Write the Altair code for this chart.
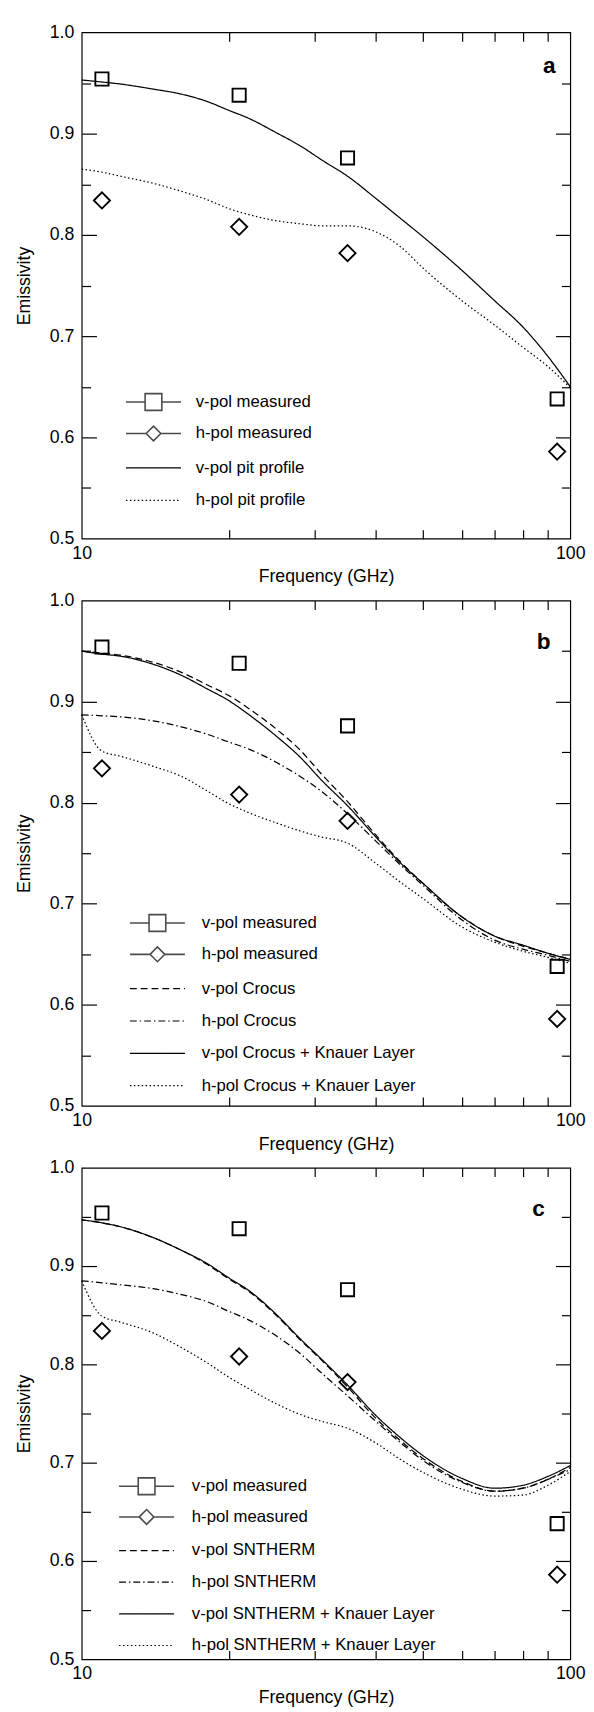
import altair as alt
import pandas as pd

FONT = "Liberation Sans"

# ---------------- data ----------------
FREQ = [10, 11, 12, 14, 16, 18, 20, 22, 25, 28, 31, 35, 40, 45, 50, 60, 70, 80, 90, 100]
MEAS_FREQ = [11, 21, 35, 94]
V_MEAS = [0.954, 0.938, 0.876, 0.638]
H_MEAS = [0.834, 0.808, 0.782, 0.586]
MEAS_NAMES = ["v-pol measured", "h-pol measured"]

A_NAMES = ["v-pol pit profile", "h-pol pit profile"]
A_V_PIT = [0.953, 0.951, 0.949, 0.944, 0.939, 0.932, 0.923, 0.915, 0.901, 0.888, 0.874, 0.858, 0.836, 0.816, 0.798, 0.765, 0.735, 0.709, 0.680, 0.650]
A_H_PIT = [0.865, 0.862, 0.858, 0.851, 0.843, 0.835, 0.826, 0.820, 0.814, 0.811, 0.809, 0.809, 0.803, 0.788, 0.767, 0.735, 0.711, 0.689, 0.670, 0.649]

B_NAMES = ["v-pol Crocus", "h-pol Crocus", "v-pol Crocus + Knauer Layer", "h-pol Crocus + Knauer Layer"]
B_V_CROCUS = [0.950, 0.948, 0.946, 0.939, 0.929, 0.917, 0.906, 0.893, 0.873, 0.852, 0.828, 0.801, 0.768, 0.741, 0.720, 0.687, 0.668, 0.658, 0.651, 0.645]
B_H_CROCUS = [0.887, 0.886, 0.885, 0.881, 0.875, 0.868, 0.860, 0.853, 0.840, 0.826, 0.811, 0.789, 0.762, 0.738, 0.718, 0.684, 0.664, 0.655, 0.649, 0.643]
B_V_KNAUER = [0.950, 0.947, 0.945, 0.937, 0.926, 0.913, 0.901, 0.887, 0.866, 0.845, 0.822, 0.797, 0.766, 0.740, 0.720, 0.687, 0.668, 0.659, 0.651, 0.645]
B_H_KNAUER = [0.887, 0.851, 0.846, 0.836, 0.826, 0.812, 0.799, 0.790, 0.780, 0.772, 0.766, 0.760, 0.740, 0.721, 0.705, 0.677, 0.662, 0.653, 0.647, 0.641]

C_NAMES = ["v-pol SNTHERM", "h-pol SNTHERM", "v-pol SNTHERM + Knauer Layer", "h-pol SNTHERM + Knauer Layer"]
C_V_SN = [0.947, 0.944, 0.940, 0.929, 0.916, 0.902, 0.887, 0.874, 0.850, 0.825, 0.804, 0.777, 0.745, 0.722, 0.704, 0.681, 0.671, 0.674, 0.683, 0.695]
C_H_SN = [0.885, 0.883, 0.881, 0.877, 0.871, 0.864, 0.854, 0.845, 0.829, 0.811, 0.791, 0.768, 0.742, 0.720, 0.702, 0.680, 0.671, 0.674, 0.683, 0.693]
C_V_KNAUER = [0.947, 0.944, 0.940, 0.929, 0.916, 0.903, 0.888, 0.875, 0.851, 0.826, 0.805, 0.779, 0.748, 0.725, 0.707, 0.684, 0.674, 0.677, 0.686, 0.697]
C_H_KNAUER = [0.885, 0.849, 0.843, 0.832, 0.817, 0.802, 0.787, 0.775, 0.760, 0.749, 0.742, 0.735, 0.720, 0.703, 0.690, 0.673, 0.666, 0.667, 0.677, 0.691]

Y_LABELS = [0.5, 0.6, 0.7, 0.8, 0.9, 1.0]
Y_MAJOR = [0.6, 0.7, 0.8, 0.9]
Y_MINOR = [0.55, 0.65, 0.75, 0.85, 0.95]
X_LABELS = [10, 100]
X_TICKS = [20, 30, 40, 50, 60, 70, 80, 90]

# ---------------- styles ----------------
SOLID = [1, 0]
DOTTED = [1.5, 2.5]
DASHED = [7, 4]
DASHDOT = [7, 3, 1.5, 3]

W = 497
LH = 3.11
SQ = 0.944
DI = 0.833
SQ_PATH = f"M{-LH},0H{-SQ}M{SQ},0H{LH}M{-SQ},{-SQ}H{SQ}V{SQ}H{-SQ}Z"
DI_PATH = f"M{-LH},0H{-DI}M{DI},0H{LH}M{-DI},0L0,{-DI}L{DI},0L0,{DI}Z"
LINE_PATH = f"M{-LH},0H{LH}"


def tick_axis(orient, offset, values, size):
    return alt.Axis(orient=orient, offset=offset, values=values, tickSize=size,
                    ticks=True, labels=False, domain=False, grid=False, title=None,
                    tickColor="black", tickWidth=1.2)


def panel(letter, names, values, dashes, H, leg_x, leg_y, pitch, label_off,
          letter_dx, letter_off):
    xs = alt.Scale(type="log", domain=[10, 100], nice=False)
    ys = alt.Scale(domain=[0.5, 1.0], nice=False, zero=False)

    rows = []
    for n, vals in zip(names, values):
        for f, v in zip(FREQ, vals):
            rows.append({"f": f, "e": v, "s": n})
    ldf = pd.DataFrame(rows)
    sq = pd.DataFrame({"f": MEAS_FREQ, "e": V_MEAS})
    di = pd.DataFrame({"f": MEAS_FREQ, "e": H_MEAS})
    meas = pd.DataFrame({"f": MEAS_FREQ * 2, "e": V_MEAS + H_MEAS,
                         "s": [MEAS_NAMES[0]] * 4 + [MEAS_NAMES[1]] * 4})

    leg_common = dict(orient="none", legendX=leg_x, title=None, symbolSize=324,
                      symbolStrokeColor="black", labelFontSize=17, labelFont=FONT,
                      labelColor="black", labelOffset=label_off,
                      padding=0, labelLimit=0)

    lines = alt.Chart(ldf).mark_line(color="black", strokeWidth=1.25, interpolate="monotone").encode(
        x=alt.X("f:Q", scale=xs, axis=alt.Axis(
            orient="bottom", values=X_LABELS, format="d", title="Frequency (GHz)",
            ticks=False, tickSize=0, domain=False, grid=False, labelFlush=False,
            labelFontSize=18, titleFontSize=18, titleFontWeight="normal",
            labelPadding=6, titlePadding=6)),
        y=alt.Y("e:Q", scale=ys, axis=alt.Axis(
            orient="left", values=Y_LABELS, format=".1f", title="Emissivity",
            ticks=False, tickSize=0, domain=False, grid=False,
            labelFontSize=18, titleFontSize=18, titleFontWeight="normal",
            labelPadding=8, titlePadding=16)),
        strokeDash=alt.StrokeDash("s:N", scale=alt.Scale(domain=names, range=dashes),
                                  legend=alt.Legend(legendY=leg_y + 2 * pitch,
                                                    symbolType=LINE_PATH,
                                                    symbolStrokeWidth=1.2,
                                                    rowPadding=pitch - 18.5,
                                                    **leg_common)),
    )

    squares = alt.Chart(sq).mark_point(shape="square", size=180, filled=False,
                                       color="black", strokeWidth=1.9, opacity=1).encode(
        x=alt.X("f:Q", scale=xs, axis=tick_axis("top", -H, X_TICKS, 9)),
        y=alt.Y("e:Q", scale=ys, axis=tick_axis("right", -W, Y_MAJOR, 15)),
    )
    diamonds = alt.Chart(di).mark_point(shape="diamond", size=270, filled=False,
                                        color="black", strokeWidth=1.9, opacity=1).encode(
        x=alt.X("f:Q", scale=xs, axis=tick_axis("bottom", -H, X_TICKS, 9)),
        y=alt.Y("e:Q", scale=ys, axis=tick_axis("left", -W, Y_MAJOR, 15)),
    )
    legend_layer = alt.Chart(meas).mark_point(filled=False, color="black", strokeWidth=1.6).encode(
        x=alt.X("f:Q", scale=xs, axis=None),
        y=alt.Y("e:Q", scale=ys, axis=tick_axis("right", -W, Y_MINOR, 9)),
        shape=alt.Shape("s:N", scale=alt.Scale(domain=MEAS_NAMES, range=[SQ_PATH, DI_PATH]),
                        legend=alt.Legend(legendY=leg_y, symbolStrokeWidth=1.6,
                                          symbolFillColor="transparent",
                                          rowPadding=pitch - 24.5,
                                          **leg_common)),
    ).transform_filter("false")
    extra = alt.Chart(meas).mark_point(filled=False, color="black").encode(
        x=alt.X("f:Q", scale=xs, axis=None),
        y=alt.Y("e:Q", scale=ys, axis=tick_axis("left", -W, Y_MINOR, 9)),
    ).transform_filter("false")

    return alt.layer(lines, squares, diamonds, legend_layer, extra).resolve_axis(
        x="independent", y="independent"
    ).properties(
        width=W, height=H,
        title=alt.TitleParams(letter, anchor="end", frame="group", orient="top",
                              offset=letter_off, dx=letter_dx, fontSize=23,
                              fontWeight="bold", font=FONT, color="black"),
    )


pa = panel("a", A_NAMES, [A_V_PIT, A_H_PIT], [SOLID, DOTTED], 515,
           63, 366, 33.5, 33, -15, -55)
pb = panel("b", B_NAMES, [B_V_CROCUS, B_H_CROCUS, B_V_KNAUER, B_H_KNAUER],
           [DASHED, DASHDOT, SOLID, DOTTED], 514, 67, 318, 33.4, 35, -20, -63)
pc = panel("c", C_NAMES, [C_V_SN, C_H_SN, C_V_KNAUER, C_H_KNAUER],
           [DASHED, DASHDOT, SOLID, DOTTED], 500, 56, 314, 32.7, 36, -26, -63)

chart = alt.vconcat(pa, pb, pc, spacing=4).resolve_scale(
    strokeDash="independent", shape="independent"
).resolve_legend(
    strokeDash="independent", shape="independent"
).properties(
    padding={"left": 7, "top": 0, "right": 0, "bottom": 0}
).configure_view(
    stroke="black", strokeWidth=1.2
).configure_axis(
    labelColor="black", titleColor="black", labelFont=FONT, titleFont=FONT
)

chart.save("out.html", embed_options={"renderer": "svg", "actions": False})
